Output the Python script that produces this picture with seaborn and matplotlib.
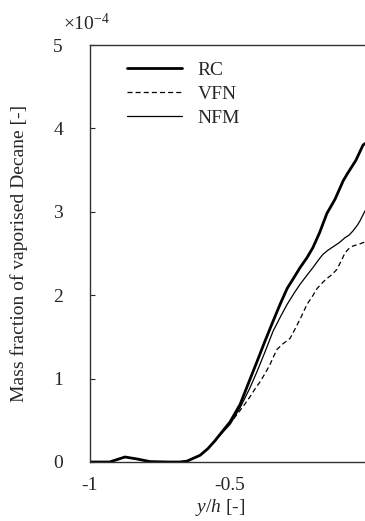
import numpy as np
import pandas as pd
import matplotlib
matplotlib.use('Agg')
import matplotlib.pyplot as plt
import seaborn as sns

# data (values in units of 1e-4)
x_rc = [-1.0, -0.96, -0.93, -0.875, -0.83, -0.786, -0.72, -0.68, -0.654, -0.607, -0.579,
        -0.555, -0.536, -0.5, -0.464, -0.43, -0.404, -0.375, -0.346, -0.32, -0.296, -0.27,
        -0.25, -0.225, -0.204, -0.18, -0.154, -0.125, -0.096, -0.082, -0.05, -0.025, 0.0]
y_rc = [0, 0, 0.0, 0.06, 0.035, 0.005, 0, 0, 0.01, 0.08, 0.16,
        0.25, 0.33, 0.48, 0.69, 0.98, 1.2, 1.45, 1.69, 1.9, 2.08, 2.22,
        2.33, 2.45, 2.57, 2.75, 2.98, 3.15, 3.37, 3.45, 3.62, 3.80, 3.86]

x_vfn = [-1.0, -0.96, -0.93, -0.875, -0.83, -0.786, -0.72, -0.68, -0.654, -0.607, -0.579,
         -0.55, -0.525, -0.5, -0.475, -0.45, -0.429, -0.41, -0.393, -0.375, -0.357, -0.345,
         -0.332, -0.31, -0.286, -0.27, -0.25, -0.225, -0.205, -0.189, -0.17, -0.154, -0.135,
         -0.118, -0.1, -0.089, -0.075, -0.061, -0.04, -0.025, 0.0]
y_vfn = [0, 0, 0.0, 0.06, 0.035, 0.005, 0, 0, 0.01, 0.08, 0.16,
         0.26, 0.37, 0.46, 0.57, 0.68, 0.78, 0.88, 0.96, 1.06, 1.17, 1.26,
         1.35, 1.42, 1.48, 1.58, 1.71, 1.89, 1.99, 2.08, 2.15, 2.20, 2.25,
         2.31, 2.43, 2.51, 2.56, 2.59, 2.61, 2.63, 2.65]

x_nfm = [-1.0, -0.96, -0.93, -0.875, -0.83, -0.786, -0.72, -0.68, -0.654, -0.607, -0.579,
         -0.555, -0.536, -0.5, -0.464, -0.43, -0.404, -0.375, -0.346, -0.32, -0.296, -0.27,
         -0.25, -0.225, -0.204, -0.18, -0.168, -0.15, -0.132, -0.11, -0.089, -0.075, -0.061,
         -0.045, -0.036, -0.018, 0.0]
y_nfm = [0, 0, 0.0, 0.06, 0.035, 0.005, 0, 0, 0.01, 0.08, 0.16,
         0.25, 0.32, 0.45, 0.65, 0.88, 1.08, 1.32, 1.57, 1.74, 1.89, 2.03,
         2.13, 2.24, 2.33, 2.44, 2.49, 2.54, 2.58, 2.63, 2.69, 2.72, 2.77,
         2.84, 2.89, 3.01, 3.08]

sns.set_style('white')
plt.rcParams['font.family'] = ['Liberation Serif', 'DejaVu Serif']
plt.rcParams['mathtext.fontset'] = 'custom'
plt.rcParams['mathtext.rm'] = 'Liberation Serif'
plt.rcParams['mathtext.it'] = 'Liberation Serif:italic'
plt.rcParams['axes.unicode_minus'] = False

fig = plt.figure(figsize=(3.65, 5.21), dpi=100)
ax = fig.add_axes([90/365, 59/521, 280/365, 417/521])

sns.lineplot(x=x_rc, y=y_rc, ax=ax, color='black', linewidth=2.0, sort=False, label='RC')
sns.lineplot(x=x_vfn, y=y_vfn, ax=ax, color='black', linewidth=0.9, linestyle=(0, (4, 2.5)),
             sort=False, label='VFN')
sns.lineplot(x=x_nfm, y=y_nfm, ax=ax, color='black', linewidth=0.9, sort=False, label='NFM')

ax.set_xlim(-1, 0)
ax.set_ylim(0, 5)
ax.set_xticks([-1, -0.5, 0])
ax.set_xticklabels(['-1', '-0.5', '0'])
ax.set_yticks([0, 1, 2, 3, 4, 5])
ax.set_yticklabels(['0', '1', '2', '3', '4', '5'])
ax.tick_params(axis='y', direction='in', length=3.6, width=0.8, pad=19.5, labelsize=14, left=True)
ax.tick_params(axis='x', direction='in', length=0, pad=10.5, labelsize=14)

for s in ax.spines.values():
    s.set_color('#333333')
    s.set_linewidth(1.0)

ax.set_xlabel('$y/h$ [-]', fontsize=14)
ax.xaxis.set_label_coords(130/280, -0.085)
ax.set_ylabel('Mass fraction of vaporised Decane [-]', fontsize=14)
ax.yaxis.set_label_coords(-62/280, 0.5)

ax.text(20/280, 1 + 15/417, r'$\times$10$^{-4}$', transform=ax.transAxes, fontsize=14,
        ha='right', va='baseline')

leg = ax.legend(loc='upper left', bbox_to_anchor=(0.104, 0.98), frameon=False, fontsize=14,
                handlelength=2.85, handletextpad=0.78, labelspacing=0.33, borderaxespad=0)

fig.savefig('out.png', dpi=100)
